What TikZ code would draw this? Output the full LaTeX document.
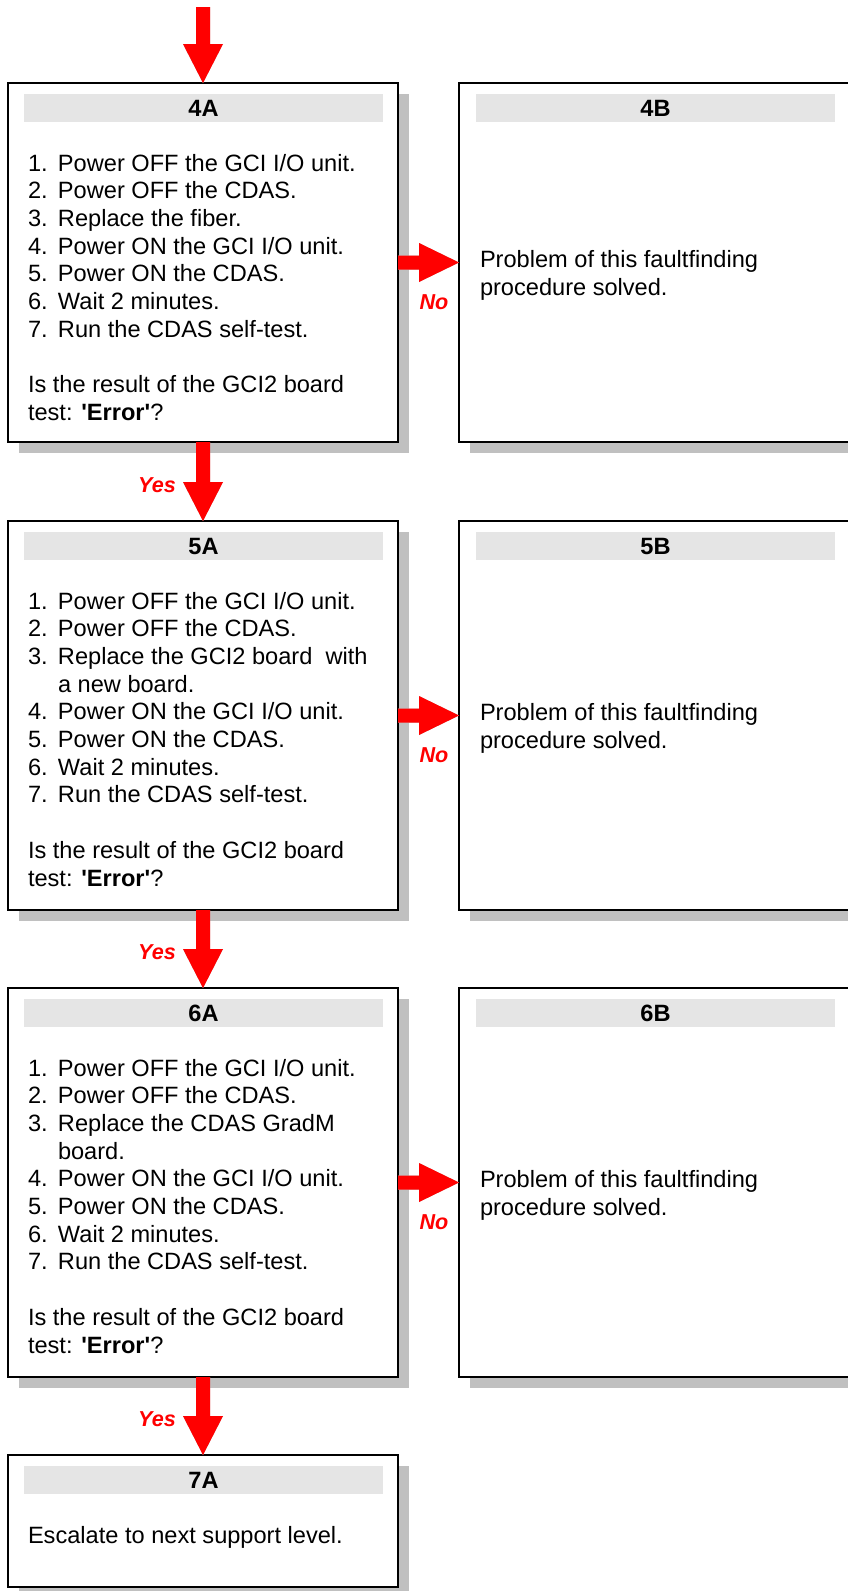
\documentclass[tikz,border=0pt]{standalone}
\usepackage{fontspec}
\setmainfont{Liberation Sans}
\usetikzlibrary{calc,shadows}
\definecolor{hdrgray}{HTML}{E5E5E5}
\definecolor{shgray}{HTML}{C0C0C0}
\newcommand{\bodyfont}{\fontsize{23.6}{27.7}\selectfont}
\newcommand{\lblfont}{\fontsize{21.6}{26}\selectfont\bfseries\itshape}
\newcommand{\itm}[2]{\makebox[30pt][l]{#1}#2\par}
\newcommand{\cont}[1]{\hspace*{30pt}#1\par}
\newcommand{\blankline}{\mbox{}\par}
\newcommand{\txtblock}[1]{\vtop{\hsize=380pt\parindent=0pt\parskip=0pt\bodyfont\raggedright #1}}
\newcommand{\errq}{test: \textbf{\textquotesingle Error\textquotesingle}?\par}
\newcommand{\downblock}[3]{%
  \fill[#1] let \p1=#2, \p2=#3 in
    (\x2-7pt,\y1) -- (\x2+7pt,\y1) -- (\x2+7pt,\y2+39pt) -- (\x2+20pt,\y2+39pt)
    -- (\x2,\y2) -- (\x2-20pt,\y2+39pt) -- (\x2-7pt,\y2+39pt) -- cycle;}
\newcommand{\rightblock}[3]{%
  \fill[#1] let \p1=#2, \p2=#3 in
    (\x1,\y2+7pt) -- (\x2-40pt,\y2+7pt) -- (\x2-40pt,\y2+19.5pt) -- (\x2,\y2)
    -- (\x2-40pt,\y2-19.5pt) -- (\x2-40pt,\y2-7pt) -- (\x1,\y2-7pt) -- cycle;}
\tikzset{
  box/.style={draw=black, line width=2pt, fill=white, inner sep=0pt, outer sep=0pt,
    minimum width=390pt,
    drop shadow={shadow xshift=11pt, shadow yshift=-11pt, fill=shgray, opacity=1}},
  hdr/.style={fill=hdrgray, inner sep=0pt, outer sep=0pt, minimum width=359pt,
    minimum height=28pt, font=\bodyfont\bfseries},
  body/.style={anchor=base west, inner sep=0pt, outer sep=0pt},
  lbl/.style={text=red, font=\lblfont, inner sep=0pt},
  arrowred/.style={fill=red},
  arrowshade/.style={fill=shgray},
}
\begin{document}
\begin{tikzpicture}[x=1pt,y=-1pt]
\useasboundingbox (0,0) rectangle (848,1591);
\fill[white] (0,0) rectangle (848,1591);
\clip (0,0) rectangle (848,1591);

% boxes
\node[box, minimum height=359pt] (a4) at (203,262.5) {};
\node[box, minimum height=359pt] (b4) at (654,262.5) {};
\node[box, minimum height=389pt] (a5) at (203,715.5) {};
\node[box, minimum height=389pt] (b5) at (654,715.5) {};
\node[box, minimum height=389pt] (a6) at (203,1182.5) {};
\node[box, minimum height=389pt] (b6) at (654,1182.5) {};
\node[box, minimum height=132pt] (a7) at (203,1521) {};

% headers
\node[hdr] (a4h) at ($(a4.north)+(0.5,25)$) {4A};
\node[hdr] (b4h) at ($(b4.north)+(1.5,25)$) {4B};
\node[hdr] (a5h) at ($(a5.north)+(0.5,25)$) {5A};
\node[hdr] (b5h) at ($(b5.north)+(1.5,25)$) {5B};
\node[hdr] (a6h) at ($(a6.north)+(0.5,25)$) {6A};
\node[hdr] (b6h) at ($(b6.north)+(1.5,25)$) {6B};
\node[hdr] (a7h) at ($(a7.north)+(0.5,25)$) {7A};

% body texts
\node[body] (a4t) at ($(a4.north west)+(20,88)$) {\txtblock{%
\itm{1.}{Power OFF the GCI I/O unit.}
\itm{2.}{Power OFF the CDAS.}
\itm{3.}{Replace the fiber.}
\itm{4.}{Power ON the GCI I/O unit.}
\itm{5.}{Power ON the CDAS.}
\itm{6.}{Wait 2 minutes.}
\itm{7.}{Run the CDAS self-test.}
\blankline
Is the result of the GCI2 board\par
\errq}};

\node[body] (a5t) at ($(a5.north west)+(20,88)$) {\txtblock{%
\itm{1.}{Power OFF the GCI I/O unit.}
\itm{2.}{Power OFF the CDAS.}
\itm{3.}{Replace the GCI2 board~ with}
\cont{a new board.}
\itm{4.}{Power ON the GCI I/O unit.}
\itm{5.}{Power ON the CDAS.}
\itm{6.}{Wait 2 minutes.}
\itm{7.}{Run the CDAS self-test.}
\blankline
Is the result of the GCI2 board\par
\errq}};

\node[body] (a6t) at ($(a6.north west)+(20,88)$) {\txtblock{%
\itm{1.}{Power OFF the GCI I/O unit.}
\itm{2.}{Power OFF the CDAS.}
\itm{3.}{Replace the CDAS GradM}
\cont{board.}
\itm{4.}{Power ON the GCI I/O unit.}
\itm{5.}{Power ON the CDAS.}
\itm{6.}{Wait 2 minutes.}
\itm{7.}{Run the CDAS self-test.}
\blankline
Is the result of the GCI2 board\par
\errq}};

\node[body] (a7t) at ($(a7.north west)+(20,88)$) {\txtblock{Escalate to next support level.\par}};

\node[body] (b4t) at ($(b4.west)+(21,5)$) {\txtblock{Problem of this faultfinding\par procedure solved.\par}};
\node[body] (b5t) at ($(b5.west)+(21,5)$) {\txtblock{Problem of this faultfinding\par procedure solved.\par}};
\node[body] (b6t) at ($(b6.west)+(21,5)$) {\txtblock{Problem of this faultfinding\par procedure solved.\par}};

% arrows
\coordinate (start) at (203,7);
\begin{scope}[xshift=5pt,yshift=-5pt]
\downblock{arrowshade}{(start)}{(a4.north)}
\downblock{arrowshade}{(a4.south)}{(a5.north)}
\downblock{arrowshade}{(a5.south)}{(a6.north)}
\downblock{arrowshade}{(a6.south)}{(a7.north)}
\rightblock{arrowshade}{(a4.east)}{(b4.west)}
\rightblock{arrowshade}{(a5.east)}{(b5.west)}
\rightblock{arrowshade}{(a6.east)}{(b6.west)}
\end{scope}
\downblock{arrowred}{(start)}{(a4.north)}
\downblock{arrowred}{(a4.south)}{(a5.north)}
\downblock{arrowred}{(a5.south)}{(a6.north)}
\downblock{arrowred}{(a6.south)}{(a7.north)}
\rightblock{arrowred}{(a4.east)}{(b4.west)}
\rightblock{arrowred}{(a5.east)}{(b5.west)}
\rightblock{arrowred}{(a6.east)}{(b6.west)}

% labels
\node[lbl, anchor=east] (y1) at ($(a5.north)+(-27,-36)$) {Yes};
\node[lbl, anchor=east] (y2) at ($(a6.north)+(-27,-36)$) {Yes};
\node[lbl, anchor=east] (y3) at ($(a7.north)+(-27,-36)$) {Yes};
\node[lbl] (n1) at ($(b4.west)+(-25,40)$) {No};
\node[lbl] (n2) at ($(b5.west)+(-25,40)$) {No};
\node[lbl] (n3) at ($(b6.west)+(-25,40)$) {No};
\end{tikzpicture}
\end{document}
